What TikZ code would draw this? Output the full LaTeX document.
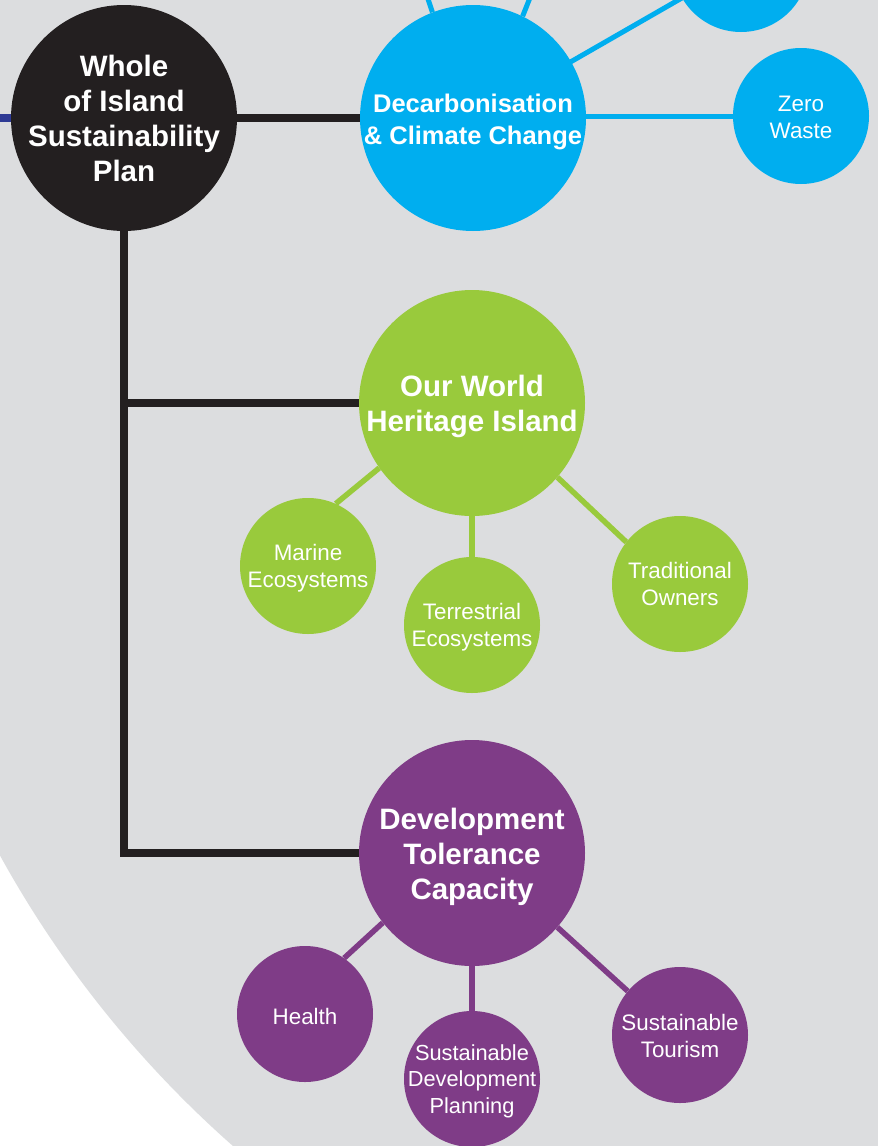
\documentclass[tikz,border=0pt]{standalone}
\usepackage{fontspec}
\setmainfont{Liberation Sans}
\pgfdeclarelayer{back}
\pgfdeclarelayer{lines}
\pgfsetlayers{back,lines,main}
\definecolor{bgGrey}{HTML}{DCDDDF}
\definecolor{wBlack}{HTML}{231F20}
\definecolor{cBlue}{HTML}{00AEEF}
\definecolor{cGreen}{HTML}{99CA3C}
\definecolor{cPurple}{HTML}{7F3C87}
\definecolor{cNavy}{HTML}{2E3A94}
\tikzset{
  bigc/.style={circle, minimum size=226pt, inner sep=0pt},
  smallc/.style={circle, minimum size=136pt, inner sep=0pt},
  bigt/.style={text=white, align=center, inner sep=0pt, yshift=-3pt,
    font=\fontsize{29.5}{35}\selectfont\bfseries},
  midt/.style={text=white, align=center, inner sep=0pt, yshift=-4pt,
    font=\fontsize{25.5}{31.5}\selectfont\bfseries},
  smallt/.style={text=white, align=center, inner sep=0pt, yshift=-2pt,
    font=\fontsize{22.4}{27}\selectfont},
  trunk/.style={draw=wBlack, line width=8pt, line join=miter},
  bluelink/.style={draw=cBlue, line width=5pt},
  greenlink/.style={draw=cGreen, line width=5.5pt},
  purplelink/.style={draw=cPurple, line width=5.5pt}
}
\begin{document}
\begin{tikzpicture}[x=1pt,y=-1pt]
\useasboundingbox (0,0) rectangle (878,1146);
\clip (0,0) rectangle (878,1146);
\begin{pgfonlayer}{back}
  \fill[white] (0,0) rectangle (878,1146);
  \fill[bgGrey] (950,333) circle[radius=1084pt];
\end{pgfonlayer}

% nodes
\node[bigc, fill=wBlack, label={[bigt, yshift=3pt]center:{Whole\\of Island\\Sustainability\\Plan}}] (whole) at (124,118) {};
\node[bigc, fill=cBlue, label={[midt]center:{Decarbonisation\\\& Climate Change}}] (decarb) at (473,118) {};
\node[smallc, fill=cBlue, label={[smallt, yshift=0.5pt]center:{Zero\\Waste}}] (zero) at (801,116) {};
\node[smallc, fill=cBlue] (topr) at (741,-36) {};
\coordinate (upA) at (415,-40);
\coordinate (upB) at (545,-40);
\coordinate (leftend) at (-10,118);

\node[bigc, fill=cGreen, label={[bigt]center:{Our World\\Heritage Island}}] (owh) at (472,403) {};
\node[smallc, fill=cGreen, label={[smallt]center:{Marine\\Ecosystems}}] (marine) at (308,566) {};
\node[smallc, fill=cGreen, label={[smallt]center:{Terrestrial\\Ecosystems}}] (terr) at (472,625) {};
\node[smallc, fill=cGreen, label={[smallt, yshift=2.5pt]center:{Traditional\\Owners}}] (trad) at (680,584) {};

\node[bigc, fill=cPurple, label={[bigt, yshift=-1pt]center:{Development\\Tolerance\\Capacity}}] (dev) at (472,853) {};
\node[smallc, fill=cPurple, label={[smallt]center:{Health}}] (health) at (305,1014) {};
\node[smallc, fill=cPurple, label={[smallt, font=\fontsize{21.8}{26.5}\selectfont]center:{Sustainable\\Development\\Planning}}] (sdp) at (472,1079) {};
\node[smallc, fill=cPurple, label={[smallt, yshift=1.5pt]center:{Sustainable\\Tourism}}] (tour) at (680,1035) {};

% connectors
\begin{pgfonlayer}{lines}
  \draw[cNavy, line width=8pt] (leftend) -- (whole.center);
  \draw[trunk] (whole.center) -- (decarb.center);
  \draw[trunk] (whole.center) |- (dev.center);
  \draw[trunk] (whole.center) |- (owh.center);

  \draw[bluelink] (zero.center) -- (zero.center -| decarb.center);
  \draw[bluelink] (decarb.center) -- (topr.center);
  \draw[bluelink] (decarb.111) -- (upA);
  \draw[bluelink] (decarb.64) -- (upB);

  \draw[greenlink] (owh.215) -- (marine.66);
  \draw[greenlink] (owh.center) -- (terr.center);
  \draw[greenlink] (owh.319) -- (trad.142);

  \draw[purplelink] (dev.218) -- (health.55);
  \draw[purplelink] (dev.center) -- (sdp.center);
  \draw[purplelink] (dev.319) -- (tour.140);
\end{pgfonlayer}
\end{tikzpicture}
\end{document}
